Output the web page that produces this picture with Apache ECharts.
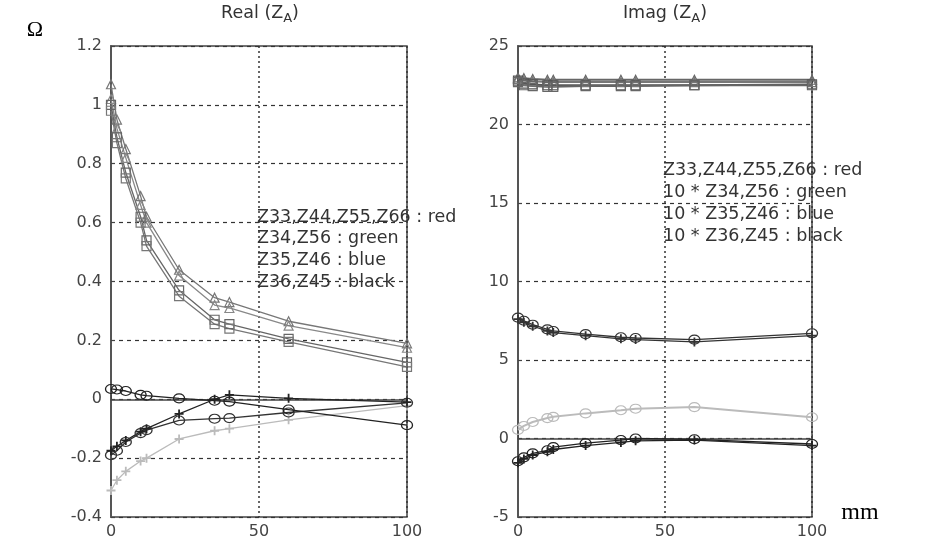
<!DOCTYPE html>
<html>
<head>
<meta charset="utf-8">
<script src="https://cdn.jsdelivr.net/npm/echarts@6/dist/echarts.min.js"></script>
<style>
html,body{margin:0;padding:0;background:#fff}
#main{width:927px;height:546px}
</style>
</head>
<body>
<div id="main"></div>
<script>
// distance, mm
var xmm = [0, 2, 5, 10, 12, 23, 35, 40, 60, 100];

// Real(ZA), ohm
var reRed1 = [1.07, 0.95, 0.85, 0.69, 0.62, 0.44, 0.345, 0.33, 0.265, 0.19];
var reRed2 = [1.02, 0.92, 0.82, 0.66, 0.60, 0.42, 0.32, 0.31, 0.25, 0.175];
var reRed3 = [1.00, 0.89, 0.77, 0.62, 0.54, 0.37, 0.27, 0.255, 0.205, 0.125];
var reRed4 = [0.98, 0.87, 0.75, 0.60, 0.52, 0.35, 0.255, 0.24, 0.195, 0.11];
var reBlk1 = [0.035, 0.033, 0.028, 0.015, 0.012, 0.003, -0.005, -0.008, -0.035, -0.088];
var reBlk2 = [-0.175, -0.16, -0.14, -0.11, -0.10, -0.05, 0.0, 0.015, 0.003, -0.01];
var reBlk3 = [-0.19, -0.175, -0.145, -0.115, -0.105, -0.072, -0.066, -0.064, -0.045, -0.012];
var reGrn = [-0.31, -0.275, -0.245, -0.21, -0.20, -0.135, -0.107, -0.10, -0.07, -0.022];

// Imag(ZA), ohm
var imRed1 = [23.0, 22.95, 22.9, 22.85, 22.85, 22.85, 22.85, 22.85, 22.85, 22.85];
var imRed2 = [22.9, 22.8, 22.75, 22.7, 22.7, 22.7, 22.7, 22.7, 22.7, 22.7];
var imRed3 = [22.8, 22.6, 22.55, 22.5, 22.5, 22.5, 22.5, 22.5, 22.5, 22.55];
var imRed4 = [22.7, 22.5, 22.45, 22.4, 22.4, 22.45, 22.45, 22.45, 22.5, 22.5];
var imMid1 = [7.7, 7.5, 7.25, 6.95, 6.85, 6.65, 6.45, 6.4, 6.3, 6.7];
var imMid2 = [7.6, 7.4, 7.15, 6.85, 6.75, 6.55, 6.35, 6.3, 6.15, 6.55];
var imGrn = [0.55, 0.8, 1.05, 1.3, 1.38, 1.6, 1.8, 1.9, 2.0, 1.35];
var imBot1 = [-1.45, -1.2, -0.95, -0.75, -0.55, -0.3, -0.1, 0.0, -0.05, -0.35];
var imBot2 = [-1.55, -1.3, -1.05, -0.85, -0.7, -0.45, -0.25, -0.15, -0.1, -0.45];

var realTicks = [-0.4, 1.2, 0.2];
var imagTicks = [-5, 25, 5];

var legendLeft = ['Z33,Z44,Z55,Z66 : red', 'Z34,Z56 : green', 'Z35,Z46 : blue', 'Z36,Z45 : black'];
var legendRight = ['Z33,Z44,Z55,Z66 : red', '10 * Z34,Z56 : green', '10 * Z35,Z46 : blue', '10 * Z36,Z45 : black'];

var PLUS = 'path://M4,0h2v10h-2z M0,4h10v2h-10z';
var FONT = 'DejaVu Sans';

function mk(data, g, sym, color, lw) {
    var s = {
        type: 'line',
        xAxisIndex: g,
        yAxisIndex: g,
        data: xmm.map(function (x, i) { return [x, data[i]]; }),
        symbol: sym,
        symbolSize: sym == 'circle' ? [11, 9] : 9,
        lineStyle: {color: color, width: lw || 1.3},
        itemStyle: sym == PLUS ? {color: color} : {color: 'transparent', borderColor: color, borderWidth: 1.2},
        emphasis: {disabled: true},
        animation: false
    };
    return s;
}

var series = [
    mk(reRed1, 0, 'triangle', '#777'),
    mk(reRed2, 0, 'triangle', '#888'),
    mk(reRed3, 0, 'rect', '#666'),
    mk(reRed4, 0, 'rect', '#777'),
    mk(reGrn, 0, PLUS, '#bbb'),
    mk(reBlk3, 0, 'circle', '#333'),
    mk(reBlk2, 0, PLUS, '#222'),
    mk(reBlk1, 0, 'circle', '#222'),

    mk(imRed1, 1, 'triangle', '#666', 2),
    mk(imRed2, 1, 'triangle', '#777', 2),
    mk(imRed3, 1, 'rect', '#555', 2),
    mk(imRed4, 1, 'rect', '#666', 2),
    mk(imMid1, 1, 'circle', '#333'),
    mk(imMid2, 1, PLUS, '#333'),
    mk(imGrn, 1, 'circle', '#bbb', 2),
    mk(imBot1, 1, 'circle', '#222'),
    mk(imBot2, 1, PLUS, '#222')
];

function xAx(g) {
    return {
        gridIndex: g, type: 'value', min: 0, max: 100, interval: 50,
        axisLine: {show: true, lineStyle: {color: '#444', width: 1.5}},
        axisTick: {inside: true, length: 4, lineStyle: {color: '#444'}},
        axisLabel: {fontSize: 16, fontFamily: FONT, color: '#444', margin: 7},
        splitLine: {show: true, lineStyle: {color: '#333', type: [2, 3], width: 1.5}}
    };
}
function yAx(g, t) {
    return {
        gridIndex: g, type: 'value', min: t[0], max: t[1], interval: t[2],
        axisLine: {show: true, lineStyle: {color: '#555', width: 2}},
        axisTick: {inside: true, length: 4, lineStyle: {color: '#444'}},
        axisLabel: {fontSize: 16, fontFamily: FONT, color: '#444', margin: 9, showMinLabel: true, showMaxLabel: true},
        splitLine: {show: true, lineStyle: {color: '#333', type: [4, 4], width: 1.2}}
    };
}

var graphics = [
    {type: 'text', x: 35, y: 30, style: {text: 'Ω', fontSize: 22, fontFamily: 'Liberation Serif', fill: '#000', align: 'center', verticalAlign: 'middle'}},
    {type: 'text', x: 860, y: 513, style: {text: 'mm', fontSize: 24, fontFamily: 'Liberation Serif', fill: '#000', align: 'center', verticalAlign: 'middle'}}
];
[['Real', 260], ['Imag', 665]].forEach(function (t) {
    graphics.push({type: 'text', x: t[1], y: 2, style: {
        text: '{n|' + t[0] + ' (Z}{s|A}{n|)}', align: 'center', verticalAlign: 'top',
        rich: {
            n: {fontSize: 17.5, fontFamily: FONT, fill: '#333', lineHeight: 23, verticalAlign: 'middle'},
            s: {fontSize: 13, fontFamily: FONT, fill: '#333', lineHeight: 13, verticalAlign: 'bottom'}
        }
    }});
});
legendLeft.forEach(function (s, i) {
    graphics.push({type: 'text', x: 257, y: 217 + i * 21.8, style: {text: s, fontSize: 17.5, fontFamily: FONT, fill: '#333', verticalAlign: 'middle'}});
});
legendRight.forEach(function (s, i) {
    graphics.push({type: 'text', x: 663, y: 170 + i * 22, style: {text: s, fontSize: 17.5, fontFamily: FONT, fill: '#333', verticalAlign: 'middle'}});
});

var myChart = echarts.init(document.getElementById('main'));
var option = {
    backgroundColor: '#fff',
    animation: false,
    grid: [
        {left: 111, top: 46, width: 296, height: 471, show: true, borderColor: '#444', borderWidth: 1.5, backgroundColor: 'transparent'},
        {left: 518, top: 46, width: 294, height: 471, show: true, borderColor: '#444', borderWidth: 1.5, backgroundColor: 'transparent'}
    ],
    xAxis: [xAx(0), xAx(1)],
    yAxis: [yAx(0, realTicks), yAx(1, imagTicks)],
    series: series,
    graphic: graphics
};
myChart.setOption(option);
</script>
</body>
</html>
